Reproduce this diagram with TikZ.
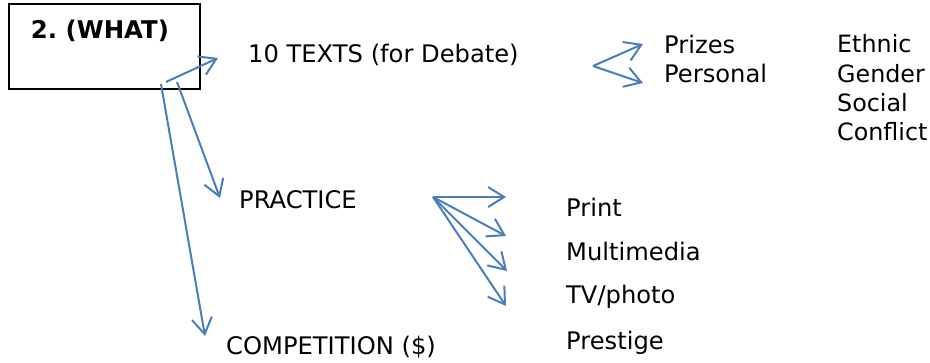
\documentclass[tikz,border=0pt]{standalone}
\usepackage{fontspec}
\setmainfont{DejaVu Sans}
\usetikzlibrary{arrows.meta}
\definecolor{arrowblue}{HTML}{4A7EBB}
\frenchspacing
\begin{document}
\begin{tikzpicture}[x=1pt,y=-1pt,
  lbl/.style={anchor=west,inner sep=0pt,font=\fontsize{24.2}{29}\selectfont},
  conn/.style={draw=arrowblue,line width=2pt,-{Straight Barb[length=16pt,width=20pt,line width=2pt]}}]
\useasboundingbox (0,0) rectangle (930,362);
\node[draw,line width=2.2pt,minimum width=191pt,minimum height=85pt,inner sep=0pt] (box) at (104.5,46.5) {};
\node[inner sep=0pt,font=\bfseries\fontsize{24.4}{29}\selectfont] (what) at (100,31) {2. (WHAT)};
\node[lbl] (texts) at (248,55) {10 TEXTS (for Debate)};
\node[lbl] (practice) at (239,200) {PRACTICE};
\node[lbl] (comp) at (226,347) {COMPETITION (\$)};
\node[lbl] (prizes) at (664,44) {Prizes};
\node[lbl] (personal) at (664,73) {Personal};
\node[lbl,font=\fontsize{23.8}{29}\selectfont] (ethnic) at (837,44) {Ethnic};
\node[lbl,font=\fontsize{23.8}{29}\selectfont] (gender) at (837,74) {Gender};
\node[lbl,font=\fontsize{23.8}{29}\selectfont] (social) at (837,103) {Social};
\node[lbl,font=\fontsize{23.8}{29}\selectfont] (conflict) at (837,132) {Conflict};
\node[lbl] (print) at (566,207) {Print};
\node[lbl] (multi) at (566,251) {Multimedia};
\node[lbl] (tv) at (566,297) {TV/photo};
\node[lbl] (prestige) at (566,343) {Prestige};
% connector end points
\coordinate (s1) at (166,82);
\coordinate (e1) at (218,58);
\coordinate (s2) at (177,82);
\coordinate (e2) at (220,198);
\coordinate (s3) at (161,84);
\coordinate (e3) at (205,336);
\coordinate (ps) at (433,197);
\coordinate (p1) at (506,197);
\coordinate (p2) at (506,236);
\coordinate (p3) at (507,271);
\coordinate (p4) at (506,306);
\coordinate (qs) at (593,66);
\coordinate (q1) at (643,44);
\coordinate (q2) at (643,83);
\draw[conn] (s1) -- (e1);
\draw[conn] (s2) -- (e2);
\draw[conn] (s3) -- (e3);
\draw[conn] (ps) -- (p1);
\draw[conn] (ps) -- (p2);
\draw[conn] (ps) -- (p3);
\draw[conn] (ps) -- (p4);
\draw[conn] (qs) -- (q1);
\draw[conn] (qs) -- (q2);
\end{tikzpicture}
\end{document}
